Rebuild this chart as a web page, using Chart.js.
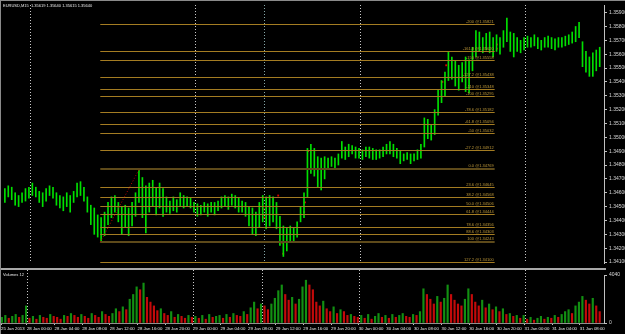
<!DOCTYPE html>
<html><head><meta charset="utf-8">
<script src="https://cdn.jsdelivr.net/npm/chart.js@4.4.0/dist/chart.umd.min.js"></script>
<style>
html,body{margin:0;padding:0;background:#000;width:625px;height:334px;overflow:hidden;}
#p{position:absolute;left:0;top:0;width:625px;height:268px;}
#v{position:absolute;left:0;top:270px;width:625px;height:64px;}
#sep{position:absolute;left:0;top:268px;width:606px;height:2px;background:#a8a8a8;}
#fl{position:absolute;left:0;top:0;width:1px;height:334px;background:#8a8a8a;}
#ft{position:absolute;left:0;top:0;width:625px;height:1px;background:#8a8a8a;}
</style></head><body>
<div id="p"><canvas id="pc"></canvas></div>
<div id="sep"></div>
<div id="v"><canvas id="vc"></canvas></div>
<div id="fl"></div><div id="ft"></div>
<script>
const titleText = 'EURUSD,M15  1.35619 1.35640 1.35615 1.35640';
const volumeTitle = 'Volumes 12';

// 30-minute bars (x in M15 bar units)
const barHigh = [
1.3463,1.3465,1.3464,1.3460,1.3458,1.3460,1.3463,1.3464,1.3467,1.3464,
1.3461,1.3460,1.3463,1.3465,1.3464,1.3460,1.3458,1.3457,1.3460,1.3458,
1.3461,1.3467,1.3468,1.3464,1.3457,1.3451,1.3449,1.3444,1.3442,1.3446,
1.3453,1.3457,1.3458,1.3453,1.3450,1.3451,1.3449,1.3453,1.3460,1.34769,
1.3471,1.3465,1.3467,1.3469,1.3464,1.3467,1.3463,1.3457,1.3454,1.3457,
1.3455,1.3460,1.3458,1.3457,1.3456,1.3453,1.3452,1.3451,1.3453,1.3452,
1.3453,1.3453,1.3454,1.3457,1.3458,1.3457,1.3459,1.3458,1.3456,1.3454,
1.3453,1.3450,1.3449,1.3446,1.3453,1.3458,1.3457,1.3458,1.3457,1.3453,
1.3443,1.3436,1.3435,1.3436,1.3435,1.3439,1.3450,1.3460,1.3492,1.3495,
1.3492,1.3486,1.3485,1.3486,1.3485,1.3486,1.3485,1.3488,1.3497,1.3493,
1.3495,1.3494,1.3493,1.3492,1.3491,1.3493,1.3493,1.3492,1.3491,1.3491,
1.3493,1.3495,1.3497,1.3495,1.3492,1.3490,1.3488,1.3489,1.3488,1.3488,
1.3491,1.3495,1.3514,1.3513,1.3509,1.3520,1.3534,1.3541,1.3547,1.3562,
1.3558,1.3555,1.3552,1.3554,1.3558,1.3556,1.3565,1.3577,1.3576,1.3572,
1.3575,1.3576,1.3572,1.3574,1.3572,1.3577,1.3586,1.3576,1.3575,1.3572,
1.3570,1.3572,1.3573,1.3572,1.3574,1.3572,1.3570,1.3572,1.3573,1.3572,
1.3571,1.3572,1.3572,1.3573,1.3574,1.3576,1.3580,1.3583,1.3569,1.3562,
1.3558,1.3561,1.3563,1.3565];
const barLow = [
1.3453,1.3457,1.3455,1.3451,1.3450,1.3453,1.3454,1.3456,1.3458,1.3457,
1.3453,1.3450,1.3454,1.3458,1.3456,1.3451,1.3449,1.3447,1.3450,1.3446,
1.3453,1.3457,1.3458,1.3454,1.3446,1.3437,1.3430,1.3428,1.34243,1.3429,
1.3437,1.3442,1.3446,1.3439,1.3430,1.3435,1.3429,1.3436,1.3443,1.3453,
1.3442,1.3431,1.3446,1.3450,1.3444,1.3449,1.3443,1.3446,1.3445,1.3447,
1.3446,1.3450,1.3449,1.3450,1.3449,1.3446,1.3443,1.3444,1.3446,1.3443,
1.3446,1.3444,1.3447,1.3449,1.3450,1.3448,1.3451,1.3449,1.3446,1.3446,
1.3443,1.3436,1.3430,1.3429,1.3435,1.3439,1.3434,1.3436,1.3439,1.3434,
1.3422,1.3414,1.3418,1.3425,1.3424,1.3428,1.3439,1.3442,1.3457,1.3474,
1.3472,1.3464,1.3462,1.3470,1.3477,1.3479,1.3478,1.3480,1.3485,1.3484,
1.3486,1.3488,1.3485,1.3485,1.3484,1.3486,1.3485,1.3484,1.3484,1.3485,
1.3486,1.3488,1.3488,1.3486,1.3485,1.3481,1.3483,1.3484,1.3481,1.3483,
1.3484,1.3485,1.3493,1.3499,1.3498,1.3502,1.3516,1.3525,1.3530,1.3541,
1.3542,1.3537,1.3534,1.3540,1.3533,1.3532,1.3548,1.3558,1.3562,1.3561,
1.3563,1.3561,1.3558,1.3562,1.3560,1.3565,1.3569,1.3562,1.3558,1.3562,
1.3561,1.3563,1.3565,1.3565,1.3566,1.3564,1.3563,1.3565,1.3565,1.3564,
1.3563,1.3565,1.3565,1.3566,1.3567,1.3568,1.3569,1.3572,1.3551,1.3547,
1.3544,1.3544,1.3548,1.3551];
const volumes = [
480,640,400,560,720,480,640,1440,
400,560,320,640,480,400,720,560,
480,320,640,560,800,640,480,720,
560,400,800,640,480,960,720,560,
800,1200,960,1360,1120,2000,2400,3040,
2800,3360,2160,1760,1440,1040,1200,800,
640,960,480,720,560,400,640,480,
560,400,640,320,720,480,560,640,
400,720,480,800,640,560,960,720,
1280,1760,1200,1600,1440,1120,1600,2080,
2720,3200,2400,1920,2160,1600,2000,3040,
3600,3200,2800,1760,1440,1840,1200,960,
1360,800,1120,960,640,720,560,480,
640,400,720,320,560,800,480,640,
400,720,480,640,800,560,480,720,
640,960,2880,2400,2000,1600,2240,1760,
2080,3200,2400,1920,1600,1440,2000,2880,
2400,1760,1440,1920,1280,1600,1120,1360,
960,1200,720,800,560,640,400,640,
320,480,240,400,560,320,480,400,
640,480,720,960,1120,800,1440,1760,
2240,1920,1600,2080,1440,960];
const barStep = 2;           // one drawn bar = 2 x M15
const xMax = 349;            // visible M15 bars

const priceTicks = [1.341,1.342,1.343,1.344,1.345,1.346,1.347,1.348,1.349,1.350,
  1.351,1.352,1.353,1.354,1.355,1.356,1.357,1.358,1.359];
const priceMin = 1.34093, priceMax = 1.35955;
const volTicks = [0, 4040];

const xTickPos = [0,15,31,47,63,79,95,111,127,143,159,175,191,207,223,239,255,271,287,303,319,335];
const xTickLabels = ['25 Jan 2013','28 Jan 00:00','28 Jan 04:00','28 Jan 08:00','28 Jan 12:00','28 Jan 16:00',
  '28 Jan 20:00','29 Jan 00:00','29 Jan 04:00','29 Jan 08:00','29 Jan 12:00','29 Jan 16:00','29 Jan 20:00',
  '30 Jan 00:00','30 Jan 04:00','30 Jan 08:00','30 Jan 12:00','30 Jan 16:00','30 Jan 20:00',
  '31 Jan 00:00','31 Jan 04:00','31 Jan 08:00'];
const daySeparators = [15,111,207,303];
const vLines = [151];

const fibLabels = ['-200','-161.8','-150','-127.2','-110','-100','-78.6','-61.8','-50','-27.2',
  '0.0','23.6','38.2','50.0','61.8','78.6','88.6','100','127.2'];
const fibPrices = [1.35821,1.35620,1.35558,1.35438,1.35348,1.35295,1.35182,1.35094,1.35032,1.34912,
  1.34769,1.34645,1.34568,1.34506,1.34444,1.34356,1.34303,1.34243,1.34100];
const fibKey = ['0.0','100'];
const fibSpan = [56, 285.4];
const fibTrendIdx = [56, 78.6];
const fibTrendPrice = [1.34243, 1.34769];

const markIdx = [151.4,151.4,159.5,161.8,162.4,174.6,175.1,176.9,255,257.2,286.7,286.7];
const markPrice = [1.3448,1.3442,1.3458,1.3424,1.3416,1.3446,1.3453,1.3490,1.3540,1.3552,1.3567,1.3564];

const FONT = '"Liberation Sans", Arial, sans-serif';
Chart.defaults.font.family = FONT;

function dotted(ctx, x, top, bottom, color) {
  ctx.save();
  ctx.strokeStyle = color; ctx.lineWidth = 1; ctx.setLineDash([1,2]);
  ctx.beginPath();
  const xx = Math.round(x) + 0.5;
  ctx.moveTo(xx, top); ctx.lineTo(xx, bottom); ctx.stroke();
  ctx.restore();
}

const pricePlugin = {
  id: 'pricePlugin',
  afterDatasetsDraw(chart) {
    const {ctx, chartArea: a, scales: {x, y}} = chart;
    ctx.save();
    ctx.beginPath(); ctx.rect(a.left, a.top, a.right - a.left, a.bottom - a.top); ctx.clip();
    daySeparators.forEach(i => dotted(ctx, x.getPixelForValue(i), a.top, a.bottom, '#c8c8c8'));
    vLines.forEach(i => dotted(ctx, x.getPixelForValue(i), a.top, a.bottom, '#86a8a8'));
    const x0 = x.getPixelForValue(fibSpan[0]), x1 = x.getPixelForValue(fibSpan[1]);
    ctx.font = '4px ' + FONT; ctx.textAlign = 'right'; ctx.textBaseline = 'bottom';
    fibPrices.forEach((p, i) => {
      const key = fibKey.includes(fibLabels[i]);
      const yy = Math.round(y.getPixelForValue(p)) + (key ? 0 : 0.5);
      ctx.strokeStyle = key ? '#5e4a1a' : '#a47c22';
      ctx.lineWidth = key ? 2 : 1;
      ctx.beginPath(); ctx.moveTo(x0, yy); ctx.lineTo(x1, yy); ctx.stroke();
      ctx.fillStyle = '#c09a3a';
      ctx.fillText(fibLabels[i] + ' @' + p.toFixed(5), x1 - 1, yy - 1);
    });
    ctx.strokeStyle = '#c00000'; ctx.lineWidth = 1; ctx.setLineDash([1,2]);
    ctx.beginPath();
    ctx.moveTo(x.getPixelForValue(fibTrendIdx[0]), y.getPixelForValue(fibTrendPrice[0]));
    ctx.lineTo(x.getPixelForValue(fibTrendIdx[1]), y.getPixelForValue(fibTrendPrice[1]));
    ctx.stroke();
    ctx.restore();
    ctx.save();
    ctx.font = '4px ' + FONT; ctx.fillStyle = '#e8e8e8';
    ctx.textAlign = 'left'; ctx.textBaseline = 'middle';
    ctx.fillText(titleText, 3, 5.5);
    ctx.restore();
  }
};

const volPlugin = {
  id: 'volPlugin',
  afterDatasetsDraw(chart) {
    const {ctx, chartArea: a, scales: {x}} = chart;
    daySeparators.forEach(i => dotted(ctx, x.getPixelForValue(i), 0, a.bottom, '#c8c8c8'));
    vLines.forEach(i => dotted(ctx, x.getPixelForValue(i), 0, a.bottom, '#c8c8c8'));
    ctx.save();
    ctx.font = '4px ' + FONT; ctx.fillStyle = '#e8e8e8';
    ctx.textAlign = 'left'; ctx.textBaseline = 'middle';
    ctx.fillText(volumeTitle, 3, 5);
    ctx.restore();
  }
};

const priceBars = barHigh.map((h, i) => ({x: i * barStep + 0.5, y: [barLow[i], h]}));
const marks = markIdx.map((v, i) => ({x: v, y: markPrice[i]}));

new Chart(document.getElementById('pc'), {
  type: 'bar',
  data: { datasets: [
    { type: 'bar', data: priceBars, backgroundColor: '#00e000', barThickness: 1, borderWidth: 0 },
    { type: 'scatter', data: marks, pointStyle: 'rect', pointRadius: 1.3, backgroundColor: '#e00000',
      borderColor: '#e00000', borderWidth: 0, showLine: false }
  ]},
  options: {
    responsive: true, maintainAspectRatio: false, animation: false,
    events: [],
    layout: { padding: { top: 2, left: 0, right: 0, bottom: 0 } },
    plugins: { legend: { display: false }, tooltip: { enabled: false } },
    scales: {
      x: { type: 'linear', display: false, min: 0, max: xMax, offset: false },
      y: { type: 'linear', position: 'right', min: priceMin, max: priceMax, beginAtZero: false,
        afterFit: s => { s.width = 21; },
        afterBuildTicks: s => { s.ticks = priceTicks.map(v => ({value: v})); },
        ticks: { color: '#d8d8d8', font: { size: 5 }, padding: 2, callback: v => v.toFixed(5) },
        grid: { display: true, drawOnChartArea: false, tickLength: 3, color: '#c0c0c0' },
        border: { display: true, color: '#c0c0c0' } }
    }
  },
  plugins: [pricePlugin]
});

const volBars = volumes.map((v, i) => ({x: i * barStep + 0.5, y: v}));
const volColors = volumes.map((v, i) => (i === 0 || v >= volumes[i - 1]) ? '#129012' : '#c40a0a');

new Chart(document.getElementById('vc'), {
  type: 'bar',
  data: { datasets: [
    { data: volBars, backgroundColor: volColors, barThickness: 1.5, borderWidth: 0 }
  ]},
  options: {
    responsive: true, maintainAspectRatio: false, animation: false,
    events: [],
    layout: { padding: { top: 3, left: 0, right: 0, bottom: 0 } },
    plugins: { legend: { display: false }, tooltip: { enabled: false } },
    scales: {
      x: { type: 'linear', position: 'bottom', min: 0, max: xMax, offset: false,
        afterFit: s => { s.height = 11; },
        afterBuildTicks: s => { s.ticks = xTickPos.map(v => ({value: v})); },
        ticks: { color: '#e8e8e8', font: { size: 4.3 }, padding: 1, align: 'start', autoSkip: false,
          maxRotation: 0, minRotation: 0, callback: (v, i) => xTickLabels[i] },
        grid: { display: true, drawOnChartArea: false, tickLength: 2, color: '#c0c0c0', offset: false },
        border: { display: true, color: '#909090' } },
      y: { type: 'linear', position: 'right', min: 0, max: volTicks[1], beginAtZero: true,
        afterFit: s => { s.width = 21; },
        afterBuildTicks: s => { s.ticks = volTicks.map(v => ({value: v})); },
        ticks: { color: '#d8d8d8', font: { size: 5 }, padding: 2, callback: v => String(v) },
        grid: { display: true, drawOnChartArea: false, tickLength: 3, color: '#c0c0c0' },
        border: { display: true, color: '#c0c0c0' } }
    }
  },
  plugins: [volPlugin]
});
</script>
</body></html>
